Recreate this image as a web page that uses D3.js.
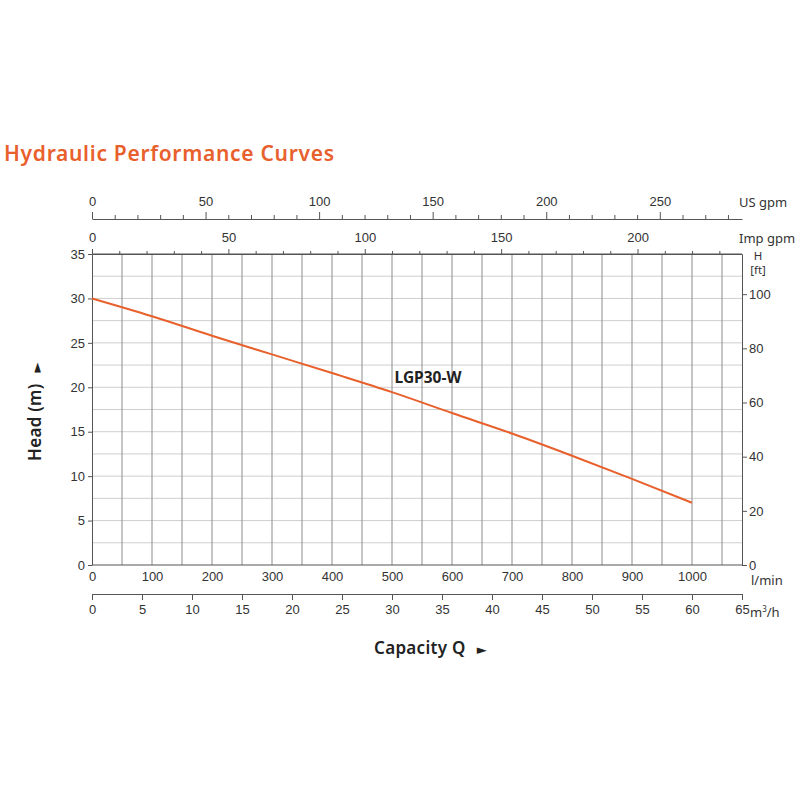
<!DOCTYPE html>
<html>
<head>
<meta charset="utf-8">
<script src="https://cdn.jsdelivr.net/npm/d3@7"></script>
<style>
  html, body { margin: 0; padding: 0; background: #fff; }
  svg { display: block; font-family: "Noto Sans", "DejaVu Sans", sans-serif; }
</style>
</head>
<body>
<svg id="chart" width="800" height="800"></svg>
<script>
// ---- data ----
const flowLmin = [0, 100, 200, 300, 400, 500, 600, 700, 800, 900, 1000];
const headM    = [30, 28, 25.8, 23.7, 21.6, 19.45, 17.1, 14.8, 12.3, 9.7, 7];
const curveName = "LGP30-W";
const lminTicks = [0, 100, 200, 300, 400, 500, 600, 700, 800, 900, 1000];
const m3hTicks = [0, 5, 10, 15, 20, 25, 30, 35, 40, 45, 50, 55, 60, 65];
const usGpmTicks = [0, 50, 100, 150, 200, 250];
const impGpmTicks = [0, 50, 100, 150, 200];
const headTicks = [0, 5, 10, 15, 20, 25, 30, 35];
const ftTicks = [0, 20, 40, 60, 80, 100];

const maxLmin = 65 * 1000 / 60;      // 65 m3/h
const maxHead = 35;

const svg = d3.select("#chart");
const L = 92, R = 742, T = 254, B = 565;

const x = d3.scaleLinear().domain([0, maxLmin]).range([L, R]);
const xm3h = d3.scaleLinear().domain([0, 65]).range([L, R]);
const xUS = d3.scaleLinear().domain([0, maxLmin / 3.78541]).range([L, R]);
const xImp = d3.scaleLinear().domain([0, maxLmin / 4.54609]).range([L, R]);
const y = d3.scaleLinear().domain([0, maxHead]).range([B, T]);
const yFt = d3.scaleLinear().domain([0, maxHead / 0.3048]).range([B, T]);

const textCol = "#333";
const axisCol = "#555";
const orange = "#E8602C";
const fmt = d3.format("d");

// title
svg.append("text").attr("x", 4).attr("y", 161)
  .attr("fill", orange).attr("font-size", 21).attr("font-weight", 600)
  .attr("letter-spacing", 0.7)
  .text("Hydraulic Performance Curves");

// grid
const grid = svg.append("g");
grid.selectAll("line.h").data(d3.range(2.5, 35, 2.5)).join("line")
  .attr("x1", L).attr("x2", R).attr("y1", d => y(d)).attr("y2", d => y(d))
  .attr("stroke", "#cfcfcf").attr("stroke-width", 1);
grid.selectAll("line.v").data(d3.range(50, 1080, 50)).join("line")
  .attr("x1", d => x(d)).attr("x2", d => x(d)).attr("y1", T).attr("y2", B)
  .attr("stroke", "#8c8c8c").attr("stroke-width", 1);

function styleAxis(g) {
  g.select(".domain").attr("stroke", axisCol);
  g.selectAll(".tick line").attr("stroke", axisCol);
  g.selectAll("text").attr("fill", textCol).attr("font-size", 13).attr("font-family", null);
}

// US gpm axis
const gUS = svg.append("g").attr("transform", `translate(0,219)`)
  .call(d3.axisTop(xUS).tickValues(d3.range(0, 290, 10)).tickSize(4).tickSizeOuter(0)
    .tickFormat(d => usGpmTicks.includes(d) ? fmt(d) : ""));
styleAxis(gUS);
gUS.selectAll(".tick").filter(d => usGpmTicks.includes(d)).select("line").attr("y2", -7);
gUS.selectAll(".tick text").attr("y", -13);
svg.append("text").attr("x", 739).attr("y", 207).attr("fill", textCol).attr("font-size", 13).text("US gpm");

// Imp gpm axis (on top border)
const gImp = svg.append("g").attr("transform", `translate(0,${T})`)
  .call(d3.axisTop(xImp).tickValues(d3.range(0, 240, 10)).tickSize(3).tickSizeOuter(0)
    .tickFormat(d => impGpmTicks.includes(d) ? fmt(d) : ""));
styleAxis(gImp);
gImp.selectAll(".tick").filter(d => impGpmTicks.includes(d)).select("line").attr("y2", -5);
gImp.selectAll(".tick text").attr("y", -12);
svg.append("text").attr("x", 739).attr("y", 243).attr("fill", textCol).attr("font-size", 13).text("Imp gpm");

// left axis
const gLeft = svg.append("g").attr("transform", `translate(${L},0)`)
  .call(d3.axisLeft(y).tickValues(headTicks).tickSize(4).tickSizeOuter(0).tickPadding(3).tickFormat(fmt));
styleAxis(gLeft);

// right axis
const gRight = svg.append("g").attr("transform", `translate(${R},0)`)
  .call(d3.axisRight(yFt).tickValues(ftTicks).tickSize(5).tickSizeOuter(0).tickPadding(2).tickFormat(fmt));
styleAxis(gRight);
svg.append("text").attr("x", 758).attr("y", 260).attr("text-anchor", "middle")
  .attr("fill", textCol).attr("font-size", 11.5).text("H");
svg.append("text").attr("x", 758).attr("y", 274).attr("text-anchor", "middle")
  .attr("fill", textCol).attr("font-size", 11.5).text("[ft]");

// top border line
svg.append("line").attr("x1", L).attr("x2", R).attr("y1", T).attr("y2", T).attr("stroke", axisCol);

// bottom l/min axis
const gBot = svg.append("g").attr("transform", `translate(0,${B})`)
  .call(d3.axisBottom(x).tickValues(lminTicks).tickSize(0).tickSizeOuter(0).tickPadding(7).tickFormat(fmt));
styleAxis(gBot);
gBot.select(".domain").attr("d", `M${L},0H${R}`);
svg.append("text").attr("x", 751).attr("y", 585).attr("fill", textCol).attr("font-size", 13).text("l/min");

// m3/h axis
const gM3 = svg.append("g").attr("transform", `translate(0,594)`)
  .call(d3.axisBottom(xm3h).tickValues(m3hTicks).tickSize(6).tickSizeOuter(0).tickPadding(5).tickFormat(fmt));
styleAxis(gM3);
const m3Label = svg.append("text").attr("x", 750).attr("y", 617).attr("fill", textCol).attr("font-size", 13);
m3Label.append("tspan").text("m");
m3Label.append("tspan").attr("font-size", 8).attr("dy", -5).text("3");
m3Label.append("tspan").attr("dy", 5).text("/h");

// curve
const line = d3.line().x(d => x(d[0])).y(d => y(d[1])).curve(d3.curveMonotoneX);
svg.append("path").datum(flowLmin.map((f, i) => [f, headM[i]]))
  .attr("d", line).attr("fill", "none").attr("stroke", orange).attr("stroke-width", 2);

svg.append("text").attr("x", x(560)).attr("y", 383).attr("text-anchor", "middle")
  .attr("fill", "#222").attr("font-size", 15.5).attr("font-weight", 700).text(curveName);

// axis titles
const cap = svg.append("text").attr("x", 374).attr("y", 654).attr("fill", "#222")
  .attr("font-size", 17).attr("font-weight", 600).attr("letter-spacing", 0.3);
cap.append("tspan").text("Capacity Q");
cap.append("tspan").attr("dx", 11).attr("font-size", 13).text("►");

const head = svg.append("text").attr("transform", "translate(41,461) rotate(-90)")
  .attr("fill", "#222").attr("font-size", 17).attr("font-weight", 600).attr("letter-spacing", 0.3);
head.append("tspan").text("Head (m)");
head.append("tspan").attr("dx", 11).attr("font-size", 13).text("►");
</script>
</body>
</html>
